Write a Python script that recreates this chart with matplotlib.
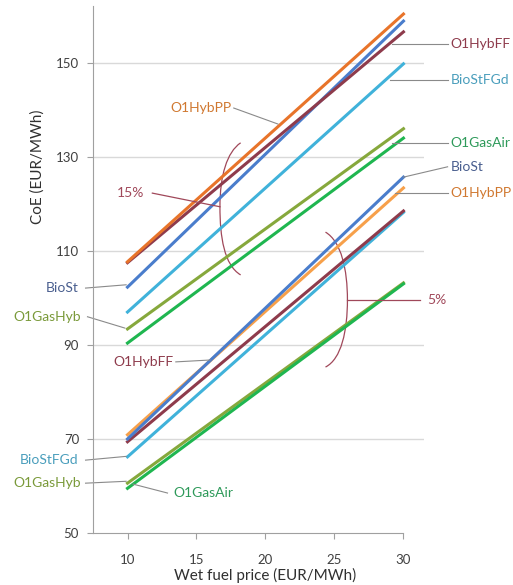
import matplotlib
matplotlib.use("Agg")
import matplotlib.pyplot as plt
from matplotlib.path import Path
from matplotlib.patches import PathPatch

plt.rcParams['font.family'] = ['Lato', 'DejaVu Sans']

# wet fuel price (EUR/MWh)
x = [10, 30]

# CoE (EUR/MWh), upper group (15 %)
hi_hybpp = [107.7, 160.4]
hi_hybff = [107.5, 156.6]
hi_biost = [102.3, 158.9]
hi_biostfgd = [97.0, 149.8]
hi_gashyb = [93.4, 136.0]
hi_gasair = [90.4, 134.0]

# CoE (EUR/MWh), lower group (5 %)
lo_biost = [70.0, 125.7]
lo_hybpp = [70.9, 123.4]
lo_hybff = [69.4, 118.5]
lo_biostfgd = [66.2, 118.2]
lo_gashyb = [60.6, 103.2]
lo_gasair = [59.5, 103.0]

yticks = [50, 70, 90, 110, 130, 150]
xticks = [10, 15, 20, 25, 30]

c_orange_hi = '#E8742A'
c_orange_lo = '#F7A04A'
c_brown = '#8E3B4C'
c_blue = '#4A7DCC'
c_cyan = '#40B2DA'
c_olive = '#86A83C'
c_green = '#1FB650'
c_pct = '#A0485A'
c_lead = '#8A8A8A'

fig = plt.figure(figsize=(5.13, 5.85), dpi=100)
ax = fig.add_axes([0.1813, 0.0889, 0.6455, 0.900])

for y in yticks[1:]:
    ax.axhline(y, color='#D9D9D9', lw=1.0, zorder=0)

lw = 2.2
ax.plot(x, hi_gasair, color=c_green, lw=lw)
ax.plot(x, hi_gashyb, color=c_olive, lw=lw)
ax.plot(x, hi_biostfgd, color=c_cyan, lw=lw)
ax.plot(x, hi_biost, color=c_blue, lw=lw)
ax.plot(x, hi_hybff, color=c_brown, lw=lw)
ax.plot(x, hi_hybpp, color=c_orange_hi, lw=lw)

ax.plot(x, lo_gashyb, color=c_olive, lw=lw)
ax.plot(x, lo_gasair, color=c_green, lw=lw)
ax.plot(x, lo_biostfgd, color=c_cyan, lw=lw)
ax.plot(x, lo_hybff, color=c_brown, lw=lw)
ax.plot(x, lo_hybpp, color=c_orange_lo, lw=lw)
ax.plot(x, lo_biost, color=c_blue, lw=lw)

ax.set_xlim(7.5, 31.5)
ax.set_ylim(50, 162)
ax.set_xticks(xticks)
ax.set_yticks(yticks)
ax.tick_params(axis='both', colors='#A0A0A0', labelcolor='#404040', labelsize=9.5, length=4)
ax.tick_params(axis='x', pad=11)
ax.tick_params(axis='y', pad=6)
for s in ['top', 'right']:
    ax.spines[s].set_visible(False)
for s in ['left', 'bottom']:
    ax.spines[s].set_color('#A0A0A0')
ax.spines['bottom'].set_bounds(7.5, 30)

fig.text(0.074, 0.7145, 'CoE (EUR/MWh)', rotation=90, ha='center', va='center',
         fontsize=11, color='#303030')
fig.text(0.5166, 0.017, 'Wet fuel price (EUR/MWh)', ha='center', va='center',
         fontsize=11, color='#303030')

fs = 10


def label(txt, tx, ty, color, p0, p1, ha='left'):
    ax.plot([p0[0], p1[0]], [p0[1], p1[1]], color=c_lead, lw=0.8, clip_on=False)
    ax.text(tx, ty, txt, color=color, fontsize=fs, ha=ha, va='center', clip_on=False)


# right side labels
label('O1HybFF', 33.4, 154.0, c_brown, (29.2, 154.0), (33.2, 154.0))
label('BioStFGd', 33.4, 146.4, '#4A9EBC', (29.0, 146.4), (33.2, 146.4))
label('O1GasAir', 33.4, 133.0, '#2E9A5A', (29.2, 133.0), (33.2, 133.0))
label('BioSt', 33.4, 127.9, '#4A5F8F', (30.0, 125.7), (33.2, 127.9))
label('O1HybPP', 33.4, 122.3, '#D07830', (29.4, 122.3), (33.2, 122.3))

# left side labels
label('O1HybPP', 15.3, 140.4, '#D07830', (17.7, 140.4), (20.9, 137.0), ha='center')
label('BioSt', 6.45, 102.1, '#4A5F8F', (6.96, 102.1), (9.9, 102.8), ha='right')
label('O1GasHyb', 6.6, 96.0, '#7A9A3A', (7.1, 96.0), (9.8, 93.6), ha='right')
label('O1HybFF', 13.3, 86.4, c_brown, (13.5, 86.4), (16.0, 86.8), ha='right')
label('BioStFGd', 6.45, 65.5, '#4A9EBC', (6.96, 65.5), (9.9, 66.3), ha='right')
label('O1GasHyb', 6.6, 60.6, '#7A9A3A', (6.96, 60.6), (9.9, 61.0), ha='right')
label('O1GasAir', 13.3, 58.5, '#2E9A5A', (10.4, 60.4), (12.9, 58.5))

# 15 % brace
brace15 = Path([(18.2, 133.0), (17.2, 131.0), (16.7, 126.0), (16.7, 119.4),
                (16.7, 113.0), (17.0, 107.0), (18.2, 104.9)],
               [Path.MOVETO, Path.CURVE4, Path.CURVE4, Path.CURVE4,
                Path.CURVE4, Path.CURVE4, Path.CURVE4])
ax.add_patch(PathPatch(brace15, fill=False, ec=c_pct, lw=0.9))
ax.plot([11.8, 16.7], [122.3, 119.4], color=c_pct, lw=0.9)
ax.text(10.2, 122.3, '15%', color=c_pct, fontsize=fs, ha='center', va='center')

# 5 % brace
brace5 = Path([(24.35, 114.0), (25.5, 112.0), (25.94, 106.0), (25.94, 99.6),
               (25.94, 93.0), (25.5, 87.0), (24.35, 85.3)],
              [Path.MOVETO, Path.CURVE4, Path.CURVE4, Path.CURVE4,
               Path.CURVE4, Path.CURVE4, Path.CURVE4])
ax.add_patch(PathPatch(brace5, fill=False, ec=c_pct, lw=0.9))
ax.plot([25.94, 31.2], [99.6, 99.6], color=c_pct, lw=0.9, clip_on=False)
ax.text(31.7, 99.6, '5%', color=c_pct, fontsize=fs, ha='left', va='center', clip_on=False)

fig.savefig('out.png', dpi=100)
